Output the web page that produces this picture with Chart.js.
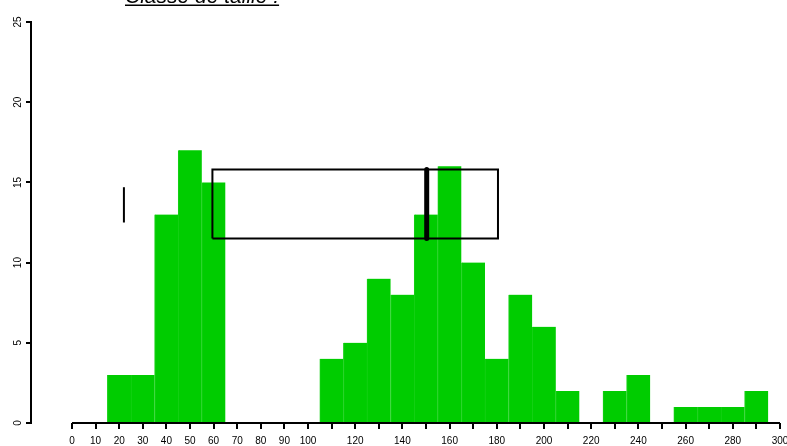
<!DOCTYPE html>
<html>
<head>
<meta charset="utf-8">
<script src="https://cdn.jsdelivr.net/npm/chart.js@4/dist/chart.umd.min.js"></script>
<style>
  body { margin: 0; background: #fff; }
  canvas { display: block; }
</style>
</head>
<body>
<canvas id="chart-area" width="787" height="446"></canvas>
<script>
// histogram: bin centres (width 10) and counts
var binMids = [20, 30, 40, 50, 60, 70, 80, 90, 100, 110, 120, 130, 140, 150, 160, 170, 180, 190, 200, 210, 220, 230, 240, 250, 260, 270, 280, 290];
var counts  = [3, 3, 13, 17, 15, 0, 0, 0, 0, 4, 5, 9, 8, 13, 16, 10, 4, 8, 6, 2, 0, 2, 3, 0, 1, 1, 1, 2];

// box drawn over the histogram
var boxLeft = 59.5, boxRight = 180.5, boxLow = 11.5, boxHigh = 15.8;
var medianX = 150.3;
var whiskerX = 22, whiskerLow = 12.5, whiskerHigh = 14.7;

var xTicks = [0, 10, 20, 30, 40, 50, 60, 70, 80, 90, 100, 120, 140, 160, 180, 200, 220, 240, 260, 280, 300];
var titleText = "Classe de taille :";

var FONT = "'Liberation Sans', Arial, sans-serif";

var barData = [];
for (var i = 0; i < binMids.length; i++) {
    barData.push({x: binMids[i], y: counts[i]});
}

var titlePlugin = {
    id: 'rtitle',
    afterDraw: function(chart) {
        var ctx = chart.ctx;
        ctx.save();
        ctx.font = "italic 21px " + FONT;
        ctx.fillStyle = "#000";
        ctx.textBaseline = "alphabetic";
        ctx.fillText(titleText, 125, 3);
        var w = ctx.measureText(titleText).width;
        ctx.fillRect(125, 4.5, w, 1.5);
        // x axis line from 0 to 300 (R style, detached from y axis)
        var xs = chart.scales.x;
        ctx.strokeStyle = "#000";
        ctx.lineWidth = 2;
        ctx.beginPath();
        ctx.moveTo(xs.getPixelForValue(0), xs.top);
        ctx.lineTo(xs.getPixelForValue(300), xs.top);
        ctx.stroke();
        ctx.restore();
    }
};

var ctx = document.getElementById("chart-area").getContext("2d");
var myChart = new Chart(ctx, {
    type: 'bar',
    data: {
        datasets: [
            {
                type: 'bar',
                data: barData,
                backgroundColor: "rgb(0,204,0)",
                borderColor: "rgb(22,209,22)",
                borderWidth: {left: 1, right: 0, top: 0, bottom: 0},
                borderSkipped: false,
                barPercentage: 1,
                categoryPercentage: 1,
                order: 2
            },
            {
                type: 'line',
                data: [
                    {x: boxLeft, y: boxLow}, {x: boxRight, y: boxLow},
                    {x: boxRight, y: boxHigh}, {x: boxLeft, y: boxHigh},
                    {x: boxLeft, y: boxLow}
                ],
                borderColor: "#000",
                borderWidth: 2,
                pointRadius: 0,
                fill: false,
                order: 1
            },
            {
                type: 'line',
                data: [{x: medianX, y: boxLow}, {x: medianX, y: boxHigh}],
                borderColor: "#000",
                borderWidth: 5,
                borderCapStyle: 'round',
                pointRadius: 0,
                fill: false,
                order: 0
            },
            {
                type: 'line',
                data: [{x: whiskerX, y: whiskerLow}, {x: whiskerX, y: whiskerHigh}],
                borderColor: "#000",
                borderWidth: 2,
                pointRadius: 0,
                fill: false,
                order: 0
            }
        ]
    },
    options: {
        responsive: false,
        animation: false,
        layout: { padding: {top: 22, right: 7, bottom: 0, left: 0} },
        plugins: { legend: {display: false}, tooltip: {enabled: false} },
        scales: {
            x: {
                type: 'linear',
                min: -17.37,
                max: 300,
                offset: false,
                border: {display: false},
                grid: {offset: false, drawOnChartArea: false, drawTicks: true, tickLength: 6, color: "#000", lineWidth: 2},
                ticks: {
                    stepSize: 10,
                    autoSkip: false,
                    maxRotation: 0,
                    padding: 6,
                    color: "#000",
                    font: {family: FONT, size: 10},
                    callback: function(v) { return xTicks.indexOf(v) >= 0 ? String(v) : ''; }
                },
                afterBuildTicks: function(s) {
                    s.ticks = s.ticks.filter(function(t) { return t.value >= 0 && t.value <= 300; });
                },
                afterFit: function(s) { s.height = 23; s.paddingLeft = 0; s.paddingRight = 0; }
            },
            y: {
                min: 0,
                max: 25,
                border: {display: true, color: "#000", width: 2},
                grid: {drawOnChartArea: false, drawTicks: true, tickLength: 5, color: "#000", lineWidth: 2},
                ticks: {
                    stepSize: 5,
                    minRotation: 90,
                    maxRotation: 90,
                    crossAlign: 'center',
                    padding: 2,
                    color: "#000",
                    font: {family: FONT, size: 10}
                },
                afterFit: function(s) { s.width = 31; s.paddingTop = 0; s.paddingBottom = 0; }
            }
        }
    },
    plugins: [titlePlugin]
});
</script>
</body>
</html>
